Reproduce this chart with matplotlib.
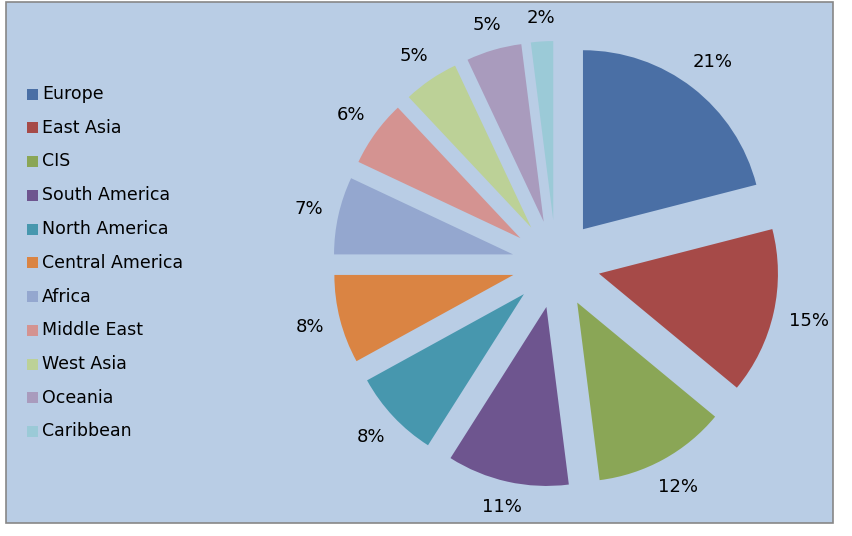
import matplotlib
matplotlib.use("Agg")
import math
import matplotlib.pyplot as plt
from matplotlib.patches import Rectangle

categories = ["Europe", "East Asia", "CIS", "South America", "North America",
              "Central America", "Africa", "Middle East", "West Asia", "Oceania", "Caribbean"]
values = [21, 15, 12, 11, 8, 8, 7, 6, 5, 5, 2]
colors = ["#4A6FA5", "#A64A48", "#8AA656", "#6E558F", "#4797AE", "#DA8443",
          "#94A7CF", "#D49391", "#BCD197", "#A99BBD", "#9BCAD7"]

W, H = 852, 536
fig = plt.figure(figsize=(W / 100, H / 100), dpi=100)
fig.patch.set_facecolor("white")
ax = fig.add_axes([0, 0, 1, 1])
ax.set_xlim(0, W)
ax.set_ylim(0, H)
ax.set_aspect("equal")
ax.axis("off")

# chart area background with border
ax.add_patch(Rectangle((6, H - 523), 827, 521, facecolor="#B9CDE5",
                       edgecolor="#878787", linewidth=1.2, zorder=0))

R = 179
wedges, texts, autotexts = ax.pie(
    values, colors=colors, startangle=90, counterclock=False,
    center=(556, H - 264), radius=R, explode=[44] * len(values),
    autopct="%.0f%%", pctdistance=1.17, frame=True,
    wedgeprops=dict(linewidth=0), textprops=dict(fontsize=13, color="black"))
ax.set_xlim(0, W)
ax.set_ylim(0, H)
ax.axis("off")

# place percentage labels just outside each wedge (box-edge placement)
fig.canvas.draw()
renderer = fig.canvas.get_renderer()
gap = 15
for w, t in zip(wedges, autotexts):
    th = math.radians(0.5 * (w.theta1 + w.theta2))
    c, s = math.cos(th), math.sin(th)
    bb = t.get_window_extent(renderer)
    hw, hh = bb.width / 2, bb.height * 0.4
    d = R + gap + hw * abs(c) + hh * abs(s)
    cx, cy = w.center
    t.set_position((cx + d * c, cy + d * s))

# legend
y0, step = 94, 33.75
for i, (cat, col) in enumerate(zip(categories, colors)):
    y = H - (y0 + i * step)
    ax.add_patch(Rectangle((27, y - 5.5), 11, 11, facecolor=col, edgecolor="none", zorder=3))
    ax.text(42, y, cat, fontsize=12.5, va="center", ha="left", color="black", zorder=3)

fig.savefig("out.png", dpi=100, facecolor="white")
